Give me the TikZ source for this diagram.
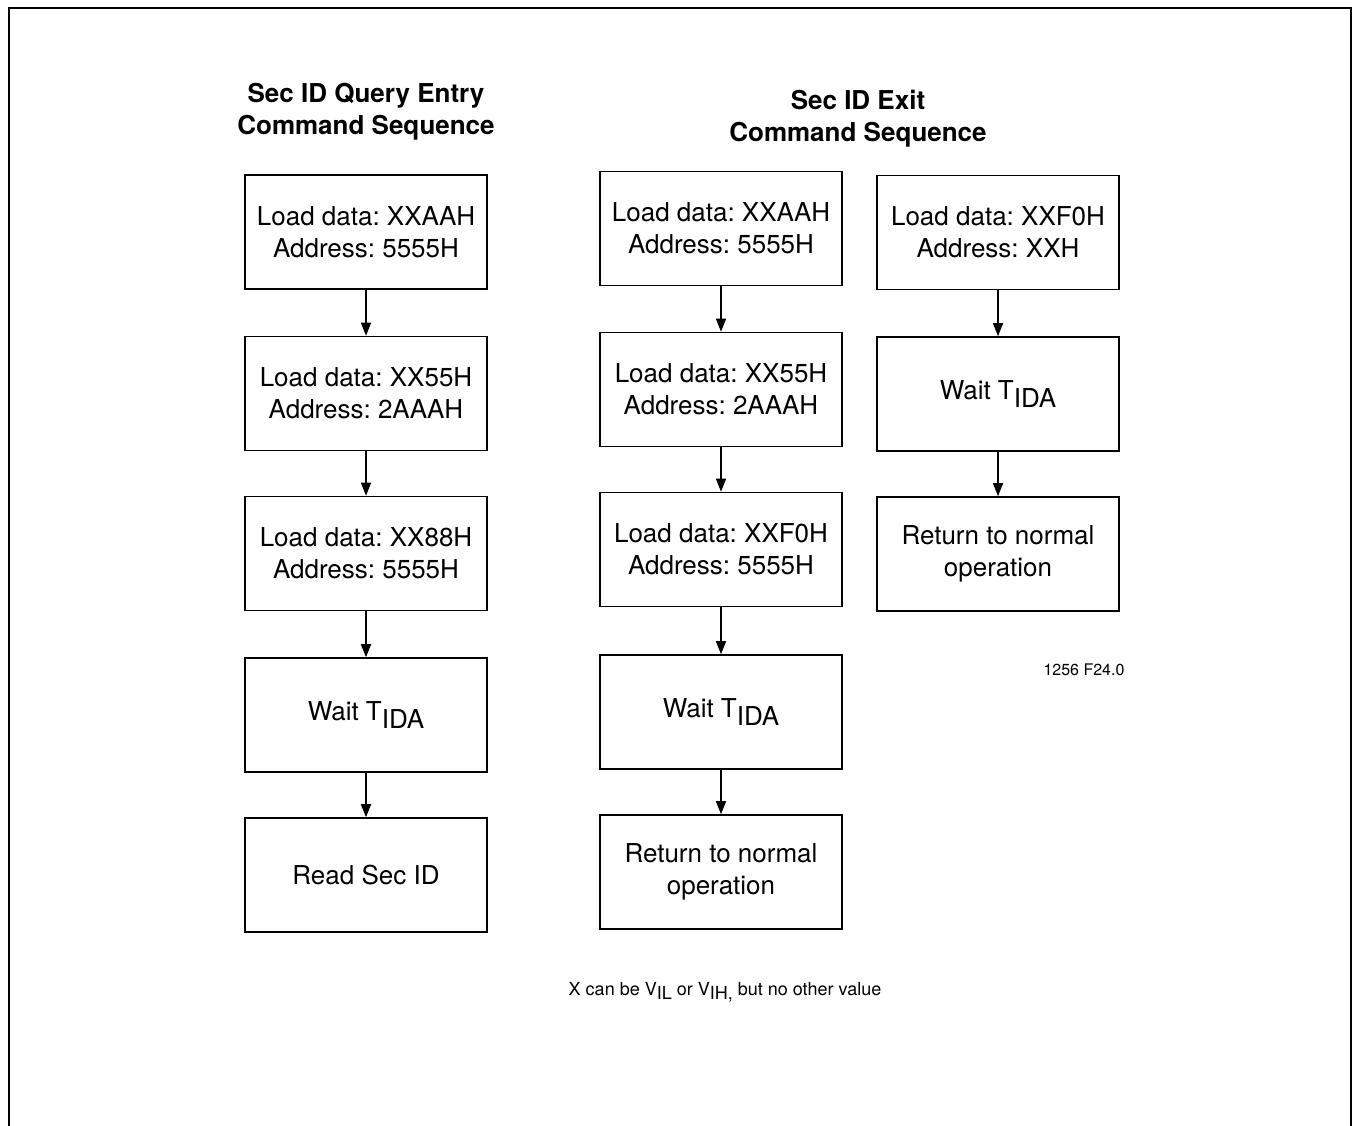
\documentclass[tikz,border=0pt]{standalone}
\usepackage{fontspec}
\setmainfont{TeX Gyre Heros}
\usetikzlibrary{arrows.meta}
\frenchspacing

\begin{document}
\begin{tikzpicture}[x=0.5pt, y=-0.5pt,
	cmdbox/.style={draw, line width=0.8pt, minimum width=121pt, minimum height=57pt, inner sep=0pt, align=center, font=\fontsize{13}{16}\selectfont},
	seqtitle/.style={align=center, font=\fontsize{13}{16}\selectfont\bfseries},
	flow/.style={line width=0.75pt, arrows={-Triangle[length=6.5pt, width=5pt]}}]
	\useasboundingbox (0,0) rectangle (1353,1125);
	\draw [line width=1.3pt] (9,1135) -- (9,8) -- (1351,8) -- (1351,1135);
	% entry sequence
	\node [seqtitle] (qtitle) at (366,112) {Sec ID Query Entry\\Command Sequence};
	\node [cmdbox] (q1) at (366,232) {Load data: XXAAH\\Address: 5555H};
	\node [cmdbox] (q2) at (366,393.5) {Load data: XX55H\\Address: 2AAAH};
	\node [cmdbox] (q3) at (366,553.5) {Load data: XX88H\\Address: 5555H};
	\node [cmdbox] (q4) at (366,715) {Wait T\raisebox{-4pt}{IDA}};
	\node [cmdbox] (q5) at (366,875) {Read Sec ID};
	\draw [flow] (q1) -- (q2);
	\draw [flow] (q2) -- (q3);
	\draw [flow] (q3) -- (q4);
	\draw [flow] (q4) -- (q5);
	% exit sequence
	\node [seqtitle] (etitle) at (858,119) {Sec ID Exit\\Command Sequence};
	\node [cmdbox] (e1) at (721,228.5) {Load data: XXAAH\\Address: 5555H};
	\node [cmdbox] (e2) at (721,389.5) {Load data: XX55H\\Address: 2AAAH};
	\node [cmdbox] (e3) at (721,549.5) {Load data: XXF0H\\Address: 5555H};
	\node [cmdbox] (e4) at (721,712) {Wait T\raisebox{-4pt}{IDA}};
	\node [cmdbox] (e5) at (721,872) {Return to normal\\operation};
	\draw [flow] (e1) -- (e2);
	\draw [flow] (e2) -- (e3);
	\draw [flow] (e3) -- (e4);
	\draw [flow] (e4) -- (e5);
	% short exit
	\node [cmdbox] (s1) at (998,232.5) {Load data: XXF0H\\Address: XXH};
	\node [cmdbox] (s2) at (998,394) {Wait T\raisebox{-4pt}{IDA}};
	\node [cmdbox] (s3) at (998,554) {Return to normal\\operation};
	\draw [flow] (s1) -- (s2);
	\draw [flow] (s2) -- (s3);
	\node [font=\fontsize{8}{10}\selectfont] (figno) at (1084,670) {1256 F24.0};
	\node [font=\fontsize{9}{11}\selectfont] (note) at (725,992) {X can be V\raisebox{-2pt}{IL} or V\raisebox{-2pt}{IH,} but no other value};
\end{tikzpicture}
\end{document}
